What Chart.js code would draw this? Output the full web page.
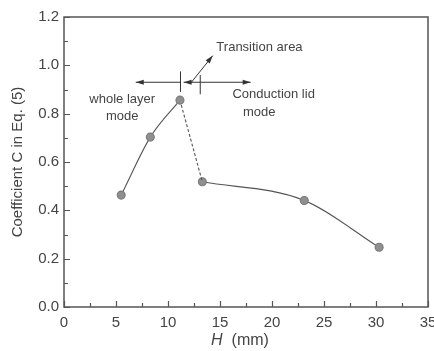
<!DOCTYPE html>
<html>
<head>
<meta charset="utf-8">
<script src="https://cdn.jsdelivr.net/npm/chart.js@4.4.1/dist/chart.umd.min.js"></script>
<style>
  html, body { margin: 0; padding: 0; background: #fff; }
  #wrap { width: 434px; height: 351px; }
</style>
</head>
<body>
<div id="wrap"><canvas id="coefChart" width="434" height="351"></canvas></div>
<script>
// H (mm) and coefficient C, whole layer mode branch
const hWhole = [5.5, 8.3, 11.15];
const cWhole = [0.463, 0.703, 0.856];
// conduction lid mode branch
const hLid = [13.3, 23.1, 30.3];
const cLid = [0.518, 0.441, 0.247];

const xTicks = [0, 5, 10, 15, 20, 25, 30, 35];
const yTicks = [0.0, 0.2, 0.4, 0.6, 0.8, 1.0, 1.2];

const ink = '#444';
const lineCol = '#555';
const font = 'Arial, "Liberation Sans", sans-serif';

function pts(xs, ys) {
    return xs.map((x, i) => ({x: x, y: ys[i]}));
}

// frame, inside ticks, annotation arrows and axis titles
const decorations = {
    id: 'decorations',
    afterDraw(chart) {
        const ctx = chart.ctx;
        const a = chart.chartArea;
        const sx = chart.scales.x, sy = chart.scales.y;
        const px = v => sx.getPixelForValue(v);
        const py = v => sy.getPixelForValue(v);

        ctx.save();
        ctx.strokeStyle = lineCol;
        ctx.lineWidth = 1.5;
        ctx.strokeRect(a.left, a.top, a.right - a.left, a.bottom - a.top);

        ctx.lineWidth = 1.2;
        ctx.beginPath();
        for (let v = 0; v <= 35.01; v += 2.5) {
            const major = Math.abs(v % 5) < 0.01;
            const x = Math.round(px(v)) + 0.5;
            ctx.moveTo(x, a.bottom);
            ctx.lineTo(x, a.bottom - (major ? 6 : 4));
        }
        for (let v = 0; v <= 1.201; v += 0.1) {
            const major = Math.round(v * 10) % 2 === 0;
            const y = Math.round(py(v)) + 0.5;
            ctx.moveTo(a.left, y);
            ctx.lineTo(a.left + (major ? 6 : 4), y);
        }
        ctx.stroke();

        // arrows
        function arrow(x0, y0, x1, y1) {
            const X0 = px(x0), Y0 = py(y0), X1 = px(x1), Y1 = py(y1);
            const ang = Math.atan2(Y1 - Y0, X1 - X0);
            ctx.beginPath();
            ctx.moveTo(X0, Y0);
            ctx.lineTo(X1, Y1);
            ctx.stroke();
            ctx.beginPath();
            ctx.moveTo(X1, Y1);
            ctx.lineTo(X1 - 8 * Math.cos(ang) + 2.6 * Math.sin(ang), Y1 - 8 * Math.sin(ang) - 2.6 * Math.cos(ang));
            ctx.lineTo(X1 - 8 * Math.cos(ang) - 2.6 * Math.sin(ang), Y1 - 8 * Math.sin(ang) + 2.6 * Math.cos(ang));
            ctx.closePath();
            ctx.fill();
        }
        function bar(x, y0, y1) {
            ctx.beginPath();
            ctx.moveTo(px(x), py(y0));
            ctx.lineTo(px(x), py(y1));
            ctx.stroke();
        }
        ctx.strokeStyle = '#333';
        ctx.fillStyle = '#333';
        ctx.lineWidth = 1;
        arrow(11.2, 0.93, 6.9, 0.93);
        arrow(13.1, 0.93, 17.95, 0.93);
        arrow(13.1, 0.93, 11.5, 0.93);
        arrow(12.25, 0.93, 14.3, 1.04);
        bar(11.2, 0.89, 0.975);
        bar(13.1, 0.88, 0.96);

        // annotation text
        ctx.fillStyle = ink;
        ctx.font = '13px ' + font;
        ctx.textBaseline = 'middle';
        ctx.textAlign = 'left';
        ctx.fillText('Transition area', px(14.65), py(1.075));
        ctx.fillText('Conduction lid', px(16.2), py(0.88));
        ctx.fillText('mode', px(17.2), py(0.805));
        ctx.textAlign = 'center';
        ctx.fillText('whole layer', px(5.6), py(0.86));
        ctx.fillText('mode', px(5.6), py(0.79));

        // axis titles
        ctx.font = '15px ' + font;
        ctx.save();
        ctx.translate(18, (a.top + a.bottom) / 2);
        ctx.rotate(-Math.PI / 2);
        ctx.textAlign = 'center';
        ctx.fillText('Coefficient C in Eq. (5)', 0, 0);
        ctx.restore();

        const tx = (a.left + a.right) / 2 - 6;
        ctx.textAlign = 'left';
        ctx.font = 'italic 16px ' + font;
        const hw = ctx.measureText('H').width;
        ctx.font = '16px ' + font;
        const rw = ctx.measureText('  (mm)').width;
        const start = tx - (hw + rw) / 2;
        ctx.font = 'italic 16px ' + font;
        ctx.fillText('H', start, 341);
        ctx.font = '16px ' + font;
        ctx.fillText('  (mm)', start + hw, 341);
        ctx.restore();
    }
};

const ctx = document.getElementById('coefChart').getContext('2d');
new Chart(ctx, {
    type: 'scatter',
    data: {
        datasets: [
            {
                data: pts(hWhole, cWhole),
                showLine: true,
                cubicInterpolationMode: 'monotone',
                borderColor: lineCol,
                borderWidth: 1.1,
                backgroundColor: '#8f8f8f',
                pointBorderColor: '#7a7a7a',
                pointRadius: 4
            },
            {
                // dashed jump across the transition
                data: [pts(hWhole, cWhole)[2], pts(hLid, cLid)[0]],
                showLine: true,
                borderColor: lineCol,
                borderWidth: 1.1,
                borderDash: [3, 2],
                pointRadius: 0
            },
            {
                data: pts(hLid, cLid),
                showLine: true,
                cubicInterpolationMode: 'monotone',
                borderColor: lineCol,
                borderWidth: 1.1,
                backgroundColor: '#8f8f8f',
                pointBorderColor: '#7a7a7a',
                pointRadius: 4
            }
        ]
    },
    options: {
        responsive: false,
        animation: false,
        devicePixelRatio: 1,
        layout: { padding: { top: 17, right: 6, left: 0, bottom: 0 } },
        plugins: { legend: { display: false }, tooltip: { enabled: false } },
        scales: {
            x: {
                type: 'linear',
                min: 0, max: 35,
                afterBuildTicks: s => { s.ticks = xTicks.map(v => ({value: v})); },
                afterFit: s => { s.height = 44; s.paddingLeft = 0; s.paddingRight = 0; },
                grid: { display: false, drawTicks: false },
                border: { display: false },
                ticks: { color: ink, font: { size: 15, family: font }, padding: 7, maxRotation: 0 }
            },
            y: {
                type: 'linear',
                min: 0, max: 1.2,
                afterBuildTicks: s => { s.ticks = yTicks.map(v => ({value: v})); },
                afterFit: s => { s.width = 64; s.paddingTop = 0; s.paddingBottom = 0; },
                grid: { display: false, drawTicks: false },
                border: { display: false },
                ticks: {
                    color: ink, font: { size: 15, family: font }, padding: 5,
                    callback: v => v.toFixed(1)
                }
            }
        }
    },
    plugins: [decorations]
});
</script>
</body>
</html>
